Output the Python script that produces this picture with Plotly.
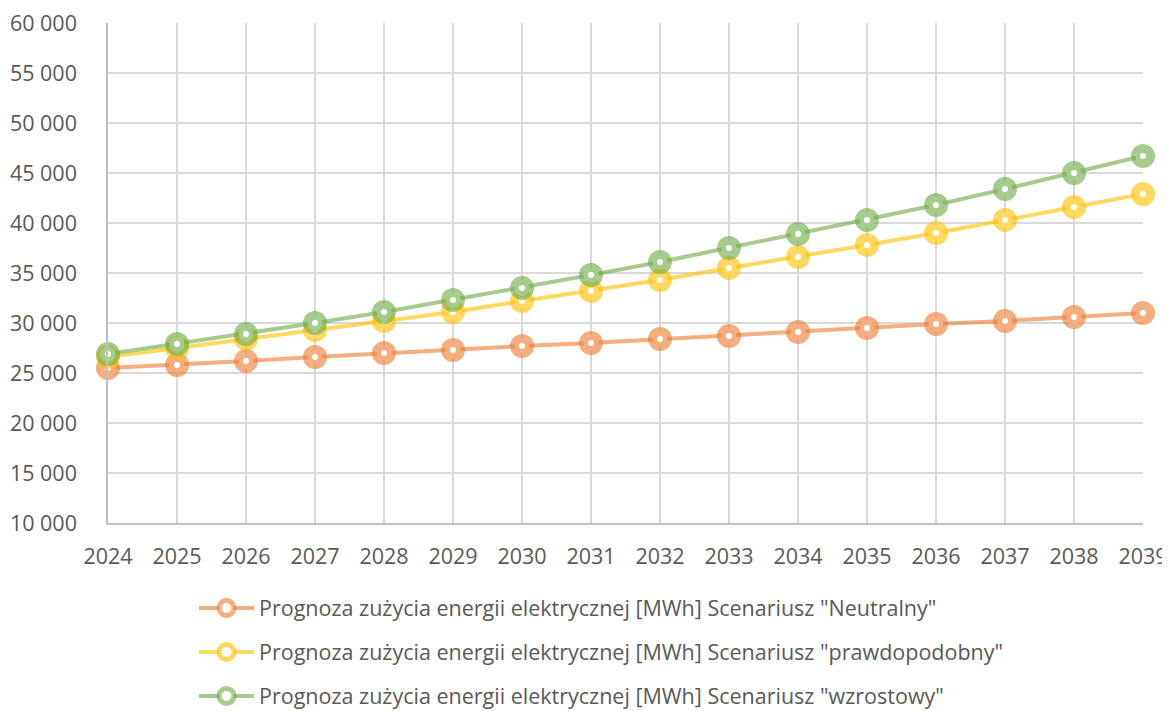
import plotly.graph_objects as go

years = list(range(2024, 2040))
neutralny = [25500, 25800, 26200, 26600, 27000, 27300, 27700, 28000, 28400, 28700, 29100, 29500, 29900, 30200, 30600, 31000]
prawdopodobny = [26600, 27500, 28400, 29300, 30200, 31100, 32200, 33200, 34300, 35500, 36600, 37800, 39000, 40300, 41600, 42900]
wzrostowy = [26900, 27900, 28900, 30000, 31100, 32300, 33500, 34800, 36100, 37500, 38900, 40300, 41800, 43400, 45000, 46700]

names = [
    'Prognoza zużycia energii elektrycznej [MWh] Scenariusz "Neutralny"',
    'Prognoza zużycia energii elektrycznej [MWh] Scenariusz "prawdopodobny"',
    'Prognoza zużycia energii elektrycznej [MWh] Scenariusz "wzrostowy"',
]
colors = ["rgba(237,125,49,0.62)", "rgba(255,192,0,0.62)", "rgba(112,173,71,0.62)"]

fig = go.Figure()
for i, (vals, name, col) in enumerate(zip([neutralny, prawdopodobny, wzrostowy], names, colors)):
    fig.add_trace(go.Scatter(
        x=years, y=vals, name=name, mode="lines+markers",
        legendgroup=f"g{i}",
        line=dict(color=col, width=4),
        marker=dict(symbol="circle", size=15, color="white",
                    line=dict(color=col, width=9)),
        cliponaxis=False,
    ))

fig.update_layout(
    width=1170, height=711,
    margin=dict(l=100, r=35, t=15, b=196, autoexpand=False),
    paper_bgcolor="white", plot_bgcolor="white",
    separators=", ",
    font=dict(family="Open Sans", size=21.5, color="#595959"),
    showlegend=True,
    legend=dict(x=86 / 1035, xanchor="left", y=-0.129, yanchor="top",
                orientation="v", tracegroupgap=13, itemwidth=55,
                font=dict(size=21.5, color="#595959")),
    xaxis=dict(range=[2024, 2039], tickmode="linear", dtick=1, tick0=2024,
               showgrid=True, gridcolor="#d9d9d9", gridwidth=1.5,
               showline=True, linecolor="#bfbfbf", linewidth=1.5,
               zeroline=False, ticks="", ticklabelstandoff=13, automargin=False,
               ticklabeloverflow="allow"),
    yaxis=dict(range=[10000, 60000], dtick=5000, tick0=10000, tickformat=",d",
               showgrid=True, gridcolor="#d9d9d9", gridwidth=1.5,
               showline=True, linecolor="#bfbfbf", linewidth=1.5,
               zeroline=False, ticks="", ticklabelstandoff=25, automargin=False,
               ticklabeloverflow="allow"),
)

fig.write_html("out.html")
